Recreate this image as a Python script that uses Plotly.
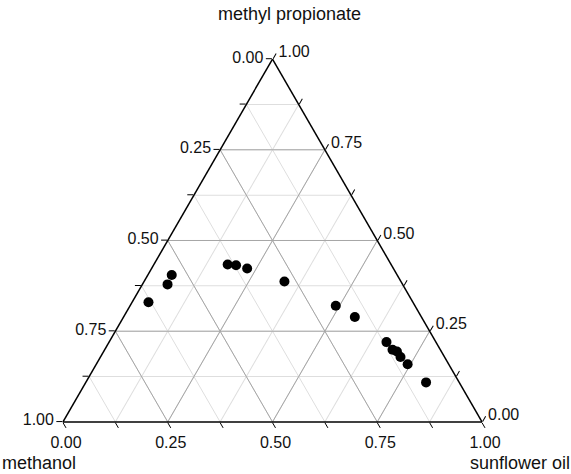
import plotly.graph_objects as go

# Data (mass fractions)
methyl_propionate = [0.330, 0.379, 0.405, 0.434, 0.432, 0.423, 0.387, 0.320, 0.289,
                     0.220, 0.199, 0.194, 0.179, 0.159, 0.109]
methanol = [0.631, 0.561, 0.538, 0.390, 0.371, 0.349, 0.278, 0.189, 0.159,
            0.118, 0.114, 0.106, 0.105, 0.098, 0.079]
sunflower_oil = [0.039, 0.060, 0.057, 0.176, 0.197, 0.228, 0.335, 0.491, 0.552,
                 0.662, 0.687, 0.700, 0.716, 0.743, 0.812]

axis_titles = ["methyl propionate", "methanol", "sunflower oil"]
tick_steps = [0, 0.125, 0.25, 0.375, 0.5, 0.625, 0.75, 0.875, 1.0]
major_ticks = [0, 0.25, 0.5, 0.75, 1.0]
major_grid = [0.25, 0.5, 0.75]

W, H = 571, 474
ML, MR, MT, MB = 63, 89, 58, 51


def tick_text(vals):
    return ["%.2f" % (1 - v) if any(abs(v - m) < 1e-9 for m in major_ticks) else "" for v in vals]


fig = go.Figure()

# darker major grid lines
for v in major_grid:
    for a, b, c in [([v, v], [1 - v, 0], [0, 1 - v]),
                    ([1 - v, 0], [v, v], [0, 1 - v]),
                    ([1 - v, 0], [0, 1 - v], [v, v])]:
        fig.add_trace(go.Scatterternary(a=a, b=b, c=c, mode="lines",
                                        line=dict(color="#a6a6a6", width=1),
                                        hoverinfo="skip", showlegend=False))

fig.add_trace(go.Scatterternary(
    a=methyl_propionate, b=methanol, c=sunflower_oil,
    mode="markers",
    marker=dict(color="black", size=10),
    showlegend=False,
))

axis_common = dict(
    tickmode="array",
    tickvals=tick_steps,
    ticktext=tick_text(tick_steps),
    ticks="outside",
    ticklen=6,
    tickwidth=1.2,
    tickcolor="black",
    showgrid=True,
    gridcolor="#dedede",
    gridwidth=1,
    linecolor="black",
    linewidth=1.5,
    tickfont=dict(family="Liberation Sans, Arial", size=16, color="#111111"),
    title=dict(text=""),
    min=0,
)

fig.update_layout(
    width=W, height=H,
    margin=dict(l=ML, r=MR, t=MT, b=MB),
    paper_bgcolor="white",
    plot_bgcolor="white",
    ternary=dict(
        sum=1,
        bgcolor="white",
        aaxis=axis_common,
        baxis=axis_common,
        caxis=axis_common,
    ),
    font=dict(family="Liberation Sans, Arial", color="#111111"),
)

PW, PH = W - ML - MR, H - MT - MB


def px(x, y):
    return (x - ML) / PW, (H - MB - y) / PH


for text, (x, y) in zip(axis_titles, [(289.5, 14), (38.5, 463), (520, 463)]):
    xp, yp = px(x, y)
    fig.add_annotation(text=text, x=xp, y=yp, xref="paper", yref="paper",
                       xanchor="center", yanchor="middle", showarrow=False,
                       font=dict(family="Liberation Sans, Arial", size=18, color="#111111"))

fig.write_html("out.html")
